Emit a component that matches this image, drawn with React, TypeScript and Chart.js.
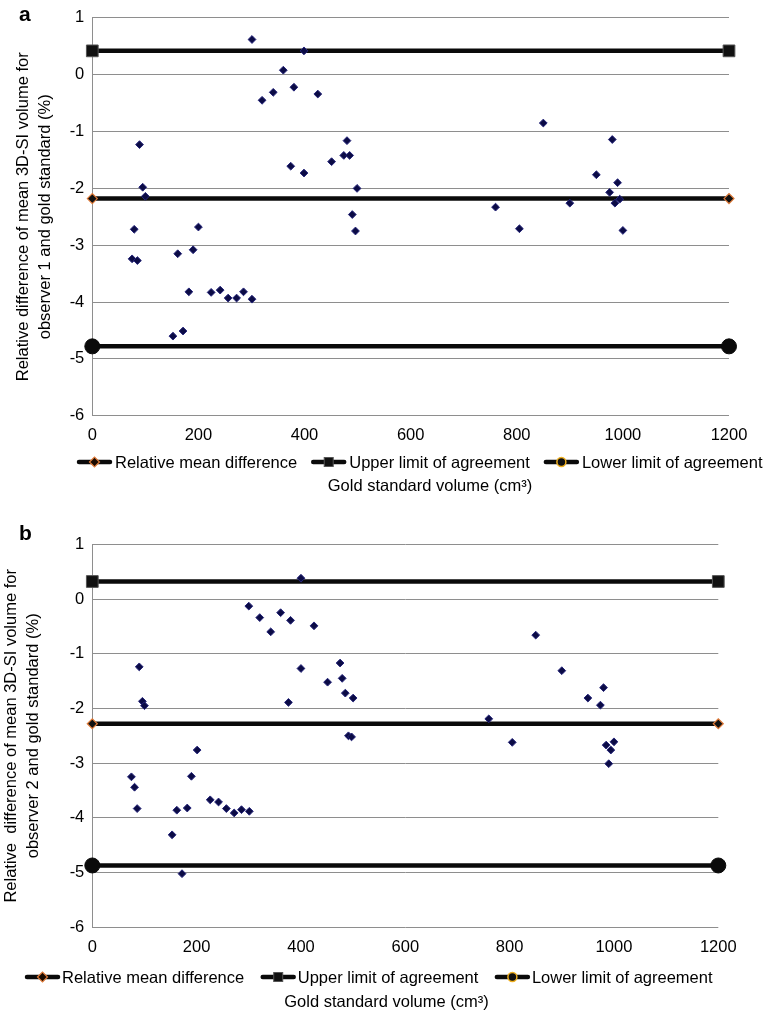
import React, { useEffect, useRef } from "react";
import { Chart, registerables } from "chart.js";

Chart.register(...registerables);

const FONT = "'Liberation Sans', Arial, sans-serif";

// ---------- data ----------
const xTickMin = 0;
const xTickMax = 1200;
const xTickStep = 200;
const yTickMin = -6;
const yTickMax = 1;
const yTickStep = 1;
const lineEnds = [0, 1200];

const legendLabels = [
  "Relative mean difference",
  "Upper limit of agreement",
  "Lower limit of agreement",
];
const xTitle = "Gold standard volume (cm³)";

// Panel a: observer 1
const volumesA = [301, 399, 360, 320, 341, 380, 425, 89, 480, 474, 485, 451, 374, 399, 95, 100, 499, 490, 496, 79, 200, 850, 980, 950, 990, 975, 985, 994, 900, 760, 805, 1000, 75, 85, 161, 190, 182, 224, 241, 256, 272, 285, 301, 152, 171];
const diffsA = [0.62, 0.42, 0.08, -0.45, -0.31, -0.22, -0.34, -1.23, -1.16, -1.42, -1.42, -1.53, -1.61, -1.73, -1.98, -2.14, -2.0, -2.46, -2.75, -2.72, -2.68, -0.85, -1.14, -1.76, -1.9, -2.07, -2.26, -2.19, -2.26, -2.33, -2.71, -2.74, -3.24, -3.27, -3.15, -3.08, -3.82, -3.83, -3.79, -3.93, -3.93, -3.82, -3.95, -4.6, -4.51];
const meanA = -2.18;
const upperA = 0.42;
const lowerA = -4.78;
const yTitleA = ["Relative difference of mean 3D-SI volume for", "observer 1 and gold standard (%)"];

// Panel b: observer 2
const volumesB = [400, 300, 321, 342, 361, 380, 425, 90, 400, 475, 451, 479, 485, 500, 376, 96, 100, 491, 497, 850, 900, 980, 950, 974, 760, 805, 985, 994, 1000, 990, 201, 75, 81, 86, 190, 162, 182, 226, 242, 257, 272, 286, 301, 153, 172];
const diffsB = [0.38, -0.13, -0.34, -0.6, -0.25, -0.39, -0.49, -1.24, -1.27, -1.17, -1.52, -1.45, -1.72, -1.81, -1.89, -1.87, -1.95, -2.5, -2.52, -0.66, -1.31, -1.62, -1.81, -1.94, -2.19, -2.62, -2.67, -2.76, -2.61, -3.01, -2.76, -3.25, -3.44, -3.83, -3.24, -3.86, -3.82, -3.67, -3.71, -3.83, -3.91, -3.85, -3.88, -4.31, -5.02];
const meanB = -2.28;
const upperB = 0.32;
const lowerB = -4.87;
const yTitleB = ["Relative  difference of mean 3D-SI volume for", "observer 2 and gold standard (%)"];

// ---------- drawing helpers ----------
function drawLegendMarker(ctx: CanvasRenderingContext2D, kind: string, x: number, y: number) {
  ctx.save();
  if (kind === "diamond") {
    ctx.beginPath();
    ctx.moveTo(x - 5, y);
    ctx.lineTo(x, y - 5);
    ctx.lineTo(x + 5, y);
    ctx.lineTo(x, y + 5);
    ctx.closePath();
    ctx.fillStyle = "#1a0a00";
    ctx.fill();
    ctx.strokeStyle = "#e07b39";
    ctx.lineWidth = 1.2;
    ctx.stroke();
  } else if (kind === "square") {
    ctx.fillStyle = "#111";
    ctx.fillRect(x - 4.5, y - 4.5, 9, 9);
    ctx.strokeStyle = "#555";
    ctx.lineWidth = 1;
    ctx.strokeRect(x - 4.5, y - 4.5, 9, 9);
  } else {
    ctx.beginPath();
    ctx.arc(x, y, 4.5, 0, Math.PI * 2);
    ctx.fillStyle = "#111";
    ctx.fill();
    ctx.strokeStyle = "#f0b020";
    ctx.lineWidth = 1.5;
    ctx.stroke();
  }
  ctx.restore();
}

const annotatePlugin = {
  id: "annotate",
  afterDraw(chart: any, _args: any, opts: any) {
    const ctx: CanvasRenderingContext2D = chart.ctx;
    ctx.save();
    // panel letter
    ctx.font = `bold 21px ${FONT}`;
    ctx.fillStyle = "#000";
    ctx.textAlign = "left";
    ctx.textBaseline = "alphabetic";
    ctx.fillText(opts.letter, opts.letterX, opts.letterY);

    // legend
    ctx.font = `16.5px ${FONT}`;
    ctx.textBaseline = "middle";
    const markers = ["diamond", "square", "circle"];
    let x = opts.legendX;
    const y = opts.legendY;
    legendLabels.forEach((text, i) => {
      ctx.strokeStyle = "#0a0a0a";
      ctx.lineWidth = 4.5;
      ctx.lineCap = "round";
      ctx.beginPath();
      ctx.moveTo(x + 2, y);
      ctx.lineTo(x + 33, y);
      ctx.stroke();
      drawLegendMarker(ctx, markers[i], x + 17.5, y);
      ctx.fillStyle = "#000";
      ctx.fillText(text, x + opts.legendTextOffset, y + 1);
      x += opts.legendTextOffset + ctx.measureText(text).width + opts.legendGap;
    });

    // x axis title
    ctx.textAlign = "center";
    ctx.fillText(xTitle, opts.xTitleX, opts.xTitleY);
    ctx.restore();
  },
};

type PanelCfg = {
  volumes: number[];
  diffs: number[];
  mean: number;
  upper: number;
  lower: number;
  yTitle: string[];
  height: number;
  padTop: number;
  padRight: number;
  xAxisH: number;
  yTitlePad: number;
  annotate: any;
};

const GRID = "#8e8e8e";

function makeChart(canvas: HTMLCanvasElement, p: PanelCfg) {
  const tickFont = { family: FONT, size: 16.5 };
  return new Chart(canvas, {
    type: "scatter",
    data: {
      datasets: [
        {
          label: "Observations",
          data: p.volumes.map((v, i) => ({ x: v, y: p.diffs[i] })),
          pointStyle: "rectRot",
          pointRadius: 3.9,
          backgroundColor: "#0b0b45",
          borderColor: "#25257a",
          borderWidth: 1,
          showLine: false,
          clip: false,
        },
        {
          label: legendLabels[0],
          data: lineEnds.map((x) => ({ x, y: p.mean })),
          showLine: true,
          borderColor: "#0a0a0a",
          borderWidth: 4.5,
          pointStyle: "rectRot",
          pointRadius: 5,
          pointBackgroundColor: "#111",
          pointBorderColor: "#e07b39",
          pointBorderWidth: 1.2,
          clip: false,
        },
        {
          label: legendLabels[1],
          data: lineEnds.map((x) => ({ x, y: p.upper })),
          showLine: true,
          borderColor: "#0a0a0a",
          borderWidth: 4.5,
          pointStyle: "rect",
          pointRadius: 8.3,
          pointBackgroundColor: "#111",
          pointBorderColor: "#555",
          pointBorderWidth: 1,
          clip: false,
        },
        {
          label: legendLabels[2],
          data: lineEnds.map((x) => ({ x, y: p.lower })),
          showLine: true,
          borderColor: "#0a0a0a",
          borderWidth: 4.5,
          pointStyle: "circle",
          pointRadius: 7.5,
          pointBackgroundColor: "#0a0a0a",
          pointBorderColor: "#0a0a0a",
          pointBorderWidth: 1,
          clip: false,
        },
      ],
    },
    options: {
      animation: false,
      responsive: false,
      maintainAspectRatio: false,
      events: [],
      layout: { padding: { left: 0, right: p.padRight, top: p.padTop, bottom: 0 } },
      plugins: {
        legend: { display: false },
        tooltip: { enabled: false },
        annotate: p.annotate,
      } as any,
      scales: {
        x: {
          type: "linear",
          min: xTickMin,
          max: xTickMax,
          ticks: {
            stepSize: xTickStep,
            padding: 10,
            color: "#000",
            font: tickFont,
            maxRotation: 0,
            callback: (v: any) => String(v),
          },
          grid: { display: false, drawTicks: false },
          border: { display: false },
          afterFit: (s: any) => {
            s.height = p.xAxisH;
          },
        },
        y: {
          type: "linear",
          min: yTickMin,
          max: yTickMax,
          ticks: { stepSize: yTickStep, padding: 8, color: "#000", font: tickFont, callback: (v: any) => String(v) },
          grid: { color: GRID, lineWidth: 1, drawTicks: false },
          border: { display: true, color: GRID, width: 1 },
          title: {
            display: true,
            text: p.yTitle,
            color: "#000",
            font: { family: FONT, size: 16.5, lineHeight: "22px" },
            padding: { top: p.yTitlePad, bottom: 0 },
          },
          afterFit: (s: any) => {
            s.width = 92.3;
          },
        },
      },
    } as any,
    plugins: [annotatePlugin],
  });
}

const panelA: PanelCfg = {
  volumes: volumesA,
  diffs: diffsA,
  mean: meanA,
  upper: upperA,
  lower: lowerA,
  yTitle: yTitleA,
  height: 500,
  padTop: 15,
  padRight: 38,
  xAxisH: 84.3,
  yTitlePad: 12,
  annotate: {
    letter: "a",
    letterX: 19,
    letterY: 21,
    legendX: 77,
    legendY: 462,
    legendTextOffset: 38,
    legendGap: 14,
    xTitleX: 430,
    xTitleY: 486,
  },
};

const panelB: PanelCfg = {
  volumes: volumesB,
  diffs: diffsB,
  mean: meanB,
  upper: upperB,
  lower: lowerB,
  yTitle: yTitleB,
  height: 512,
  padTop: 44.3,
  padRight: 48.7,
  xAxisH: 84.7,
  yTitlePad: 0,
  annotate: {
    letter: "b",
    letterX: 19,
    letterY: 40,
    legendX: 25,
    legendY: 477,
    legendTextOffset: 37,
    legendGap: 16.5,
    xTitleX: 386.5,
    xTitleY: 502,
  },
};

function Panel({ cfg, top }: { cfg: PanelCfg; top: number }) {
  const ref = useRef<HTMLCanvasElement | null>(null);
  useEffect(() => {
    if (!ref.current) return;
    const chart = makeChart(ref.current, cfg);
    return () => chart.destroy();
  }, [cfg]);
  return (
    <canvas
      ref={ref}
      width={767}
      height={cfg.height}
      style={{ position: "absolute", left: 0, top, width: 767, height: cfg.height, display: "block" }}
    />
  );
}

export default function App() {
  return (
    <div style={{ position: "absolute", left: 0, top: 0, width: 767, height: 1012, background: "#fff", overflow: "hidden" }}>
      <Panel cfg={panelA} top={0} />
      <Panel cfg={panelB} top={500} />
    </div>
  );
}
